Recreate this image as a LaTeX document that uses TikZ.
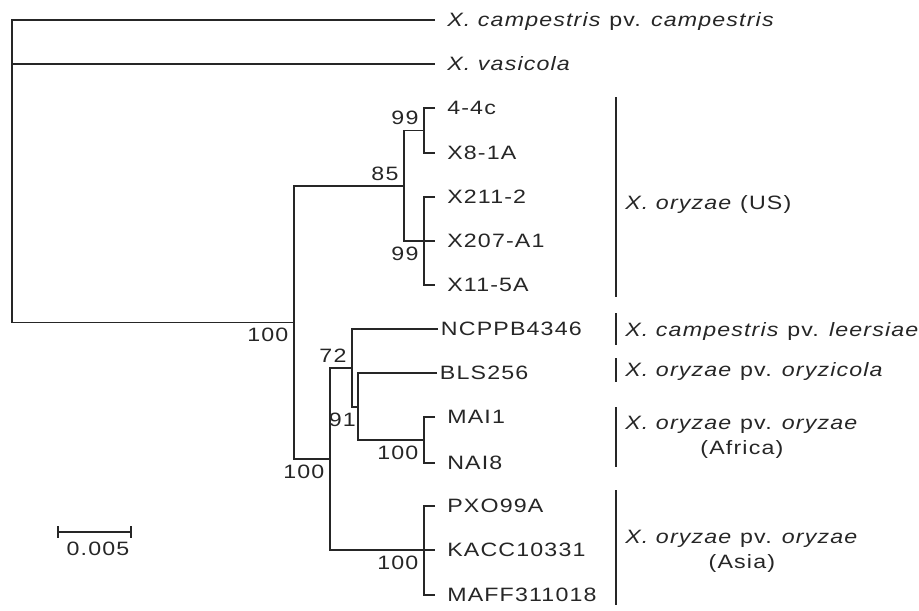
\documentclass[tikz,border=0pt]{standalone}
\usepackage{fontspec}
\setmainfont{Liberation Sans}[FakeStretch=1.2, LetterSpace=6]

\begin{document}
\begin{tikzpicture}[x=0.75pt, y=-0.75pt, font=\fontsize{14.5}{18.75}\selectfont, text=black!85,
    branch/.style={draw=black!85, line width=1.1pt},
    leaf/.style={anchor=west, text height=10.4pt, text depth=0pt, inner ysep=0pt, inner xsep=9pt},
    boot/.style={inner sep=4pt},
    grouplabel/.style={anchor=west, align=center, inner xsep=6.75pt, inner ysep=0pt}]
    \useasboundingbox (0,0) rectangle (919,610);

    % internal nodes of the tree
    \coordinate (root) at (12,171);
    \coordinate (nA) at (294,322.5);
    \coordinate (nUS) at (404,186);
    \coordinate (nUS1) at (424,130.5);
    \coordinate (nUS2) at (424,241);
    \coordinate (nL) at (330,459);
    \coordinate (nL1) at (352,368);
    \coordinate (nL2) at (358,407);
    \coordinate (nAf) at (424,440);
    \coordinate (nAs) at (424,550);

    % strains
    \node[leaf] (xcc) at (435,20) {\textit{X. campestris} pv. \textit{campestris}};
    \node[leaf] (xv) at (435,64) {\textit{X. vasicola}};
    \node[leaf] (s44c) at (435,108) {4-4c};
    \node[leaf] (x81a) at (435,153) {X8-1A};
    \node[leaf] (x2112) at (435,197) {X211-2};
    \node[leaf] (x207) at (435,241) {X207-A1};
    \node[leaf] (x115a) at (435,285) {X11-5A};
    \node[leaf, inner xsep=2pt] (ncppb) at (438,329) {NCPPB4346};
    \node[leaf, inner xsep=2pt] (bls) at (437,373) {BLS256};
    \node[leaf] (mai1) at (435,417) {MAI1};
    \node[leaf] (nai8) at (435,463) {NAI8};
    \node[leaf] (pxo) at (435,506) {PXO99A};
    \node[leaf] (kacc) at (435,550) {KACC10331};
    \node[leaf] (maff) at (435,595) {MAFF311018};

    % branches
    \draw[branch] (xcc.west) -| (root) |- (nA);
    \draw[branch] (root) |- (xv.west);
    \draw[branch] (nUS) -| (nA) |- (nL);
    \draw[branch] (nUS1) -| (nUS) |- (nUS2);
    \draw[branch] (s44c.west) -| (nUS1) |- (x81a.west);
    \draw[branch] (x2112.west) -| (nUS2) |- (x115a.west);
    \draw[branch] (nUS2) -- (x207.west);
    \draw[branch] (nL1) -| (nL) |- (nAs);
    \draw[branch] (ncppb.west) -| (nL1) |- (nL2);
    \draw[branch] (bls.west) -| (nL2) |- (nAf);
    \draw[branch] (mai1.west) -| (nAf) |- (nai8.west);
    \draw[branch] (pxo.west) -| (nAs) |- (maff.west);
    \draw[branch] (nAs) -- (kacc.west);

    % bootstrap values
    \node[boot, above left] (b85) at (nUS) {85};
    \node[boot, above left] (b99a) at (nUS1) {99};
    \node[boot, below left] (b99b) at (nUS2) {99};
    \node[boot, below left] (b100a) at (nA) {100};
    \node[boot, below left] (b100b) at (nL) {100};
    \node[boot, above left] (b72) at (nL1) {72};
    \node[boot, below left, inner xsep=1.5pt] (b91) at (nL2) {91};
    \node[boot, below left] (b100c) at (nAf) {100};
    \node[boot, below left] (b100d) at (nAs) {100};

    % groups
    \draw[branch] (616,97) -- (616,297);
    \node[grouplabel] (gUS) at (616,204) {\textit{X. oryzae} (US)};
    \draw[branch] (616,313) -- (616,345);
    \node[grouplabel] (gLee) at (616,331) {\textit{X. campestris} pv. \textit{leersiae}};
    \draw[branch] (616,358) -- (616,382);
    \node[grouplabel] (gOzc) at (616,371) {\textit{X. oryzae} pv. \textit{oryzicola}};
    \draw[branch] (616,407) -- (616,467);
    \node[grouplabel] (gAf) at (616,437) {\textit{X. oryzae} pv. \textit{oryzae}\\(Africa)};
    \draw[branch] (616,490) -- (616,605);
    \node[grouplabel] (gAs) at (616,551) {\textit{X. oryzae} pv. \textit{oryzae}\\(Asia)};

    % scale bar
    \coordinate (sbl) at (58,532);
    \coordinate (sbr) at (131,532);
    \draw[branch] (sbl) -- (sbr);
    \draw[branch] ([yshift=4.5pt]sbl) -- ([yshift=-4.5pt]sbl);
    \draw[branch] ([yshift=4.5pt]sbr) -- ([yshift=-4.5pt]sbr);
    \node (sbtext) at (98,548.5) {0.005};
\end{tikzpicture}
\end{document}
